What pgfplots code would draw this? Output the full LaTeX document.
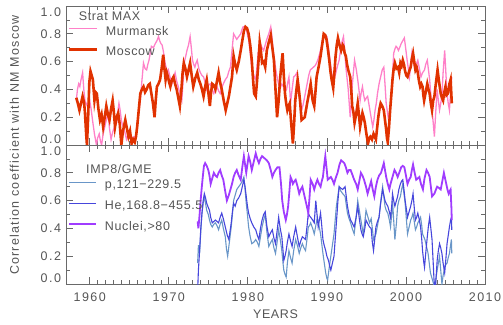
\documentclass[border=0pt]{standalone}
\usepackage{pgfplots}
\pgfplotsset{compat=1.18}
\usepackage{fontspec}
\setmainfont{Liberation Sans}[LetterSpace=5]
\newfontfamily\tickfont{Liberation Sans}[LetterSpace=12]
\newfontfamily\ylabfont{Liberation Sans}[LetterSpace=10]
\newcommand\lab{\fontsize{12.5}{15}\selectfont}
\definecolor{txt}{RGB}{85,85,85}
\definecolor{axc}{RGB}{105,105,105}
\definecolor{murm}{RGB}{255,128,200}
\definecolor{mosc}{RGB}{225,50,0}
\definecolor{pcol}{RGB}{105,150,200}
\definecolor{hecol}{RGB}{70,70,220}
\definecolor{nucol}{RGB}{160,60,255}
\pgfplotsset{panel/.style={
  width=419pt, height=139pt, scale only axis,
  xmin=1957, xmax=2010, ymin=0, ymax=1,
  xtick={1960,1970,1980,1990,2000,2010}, minor x tick num=9,
  ytick={0,0.2,0.4,0.6,0.8,1}, minor y tick num=1,
  tick align=inside, major tick length=7pt, minor tick length=4pt,
  axis line style={axc, line width=0.9pt},
  every tick/.style={axc, line width=0.7pt},
  tick label style={font=\tickfont\lab, text=txt},
  /pgf/number format/assume math mode=true,
  /pgf/number format/1000 sep={},
  xticklabel style={yshift=-5pt},
  yticklabel style={xshift=-1.5pt},
  yticklabel={\pgfmathparse{\tick}\let\tv\pgfmathresult%
    \ifdim\tv pt<0.05pt \raisebox{5.5pt}[\height][\depth]{0.0}%
    \else\ifdim\tv pt>0.95pt \raisebox{-6pt}[\height][\depth]{1.0}%
    \else\pgfmathprintnumber[fixed,fixed zerofill,precision=1]{\tick}\fi\fi},
  legend image code/.code={\draw[#1] (0pt,2pt) -- (27pt,2pt);},
  legend cell align=left,
}}
\begin{document}
\begin{tikzpicture}
\useasboundingbox (-66pt,-40pt) rectangle (437pt,284pt);
% ---------------- bottom panel ----------------
\begin{axis}[panel, at={(0pt,0pt)}, anchor=south west,
  xlabel={YEARS},
  every axis x label/.style={at={(axis description cs:0.5,0)}, anchor=north, yshift=-26pt, inner sep=0pt, font=\lab, text=txt},
  ylabel={Correlation coefficient with NM Moscow},
  every axis y label/.style={at={(axis description cs:-0.1229,1)}, rotate=90, anchor=center, inner sep=0pt, font=\ylabfont\lab, text=txt},
  legend style={at={(axis description cs:0,1)}, anchor=north west, xshift=2pt, yshift=-34.5pt,
    draw=none, fill=none, inner sep=0pt, row sep=12pt, font=\lab, text=txt,
    nodes={inner sep=0pt, text height=9pt, text depth=0pt},
    /tikz/every odd column/.append style={column sep=8pt}},
]
\addplot[pcol, line width=1.1pt] coordinates {
(1973.65,0.15)(1973.75,0.28)(1973.9,0.22)(1974.05,0.38)(1974.2,0.51)(1974.35,0.58)(1974.5,0.63)(1974.65,0.58)(1974.8,0.53)(1975.0,0.50)
(1975.15,0.46)(1975.3,0.43)(1975.5,0.41)(1975.7,0.43)(1975.9,0.44)(1976.1,0.42)(1976.3,0.39)(1976.5,0.43)(1976.7,0.46)(1976.9,0.40)
(1977.15,0.34)(1977.3,0.25)(1977.45,0.20)(1977.6,0.27)(1977.75,0.34)(1977.9,0.41)(1978.05,0.50)(1978.2,0.60)(1978.4,0.64)(1978.6,0.68)
(1978.85,0.70)(1979.1,0.72)(1979.3,0.74)(1979.5,0.77)(1979.65,0.68)(1979.8,0.58)(1979.95,0.50)(1980.1,0.41)(1980.3,0.34)(1980.5,0.29)
(1980.75,0.30)(1981.0,0.32)(1981.2,0.30)(1981.4,0.27)(1981.6,0.34)(1981.8,0.41)(1982.0,0.46)(1982.2,0.50)(1982.4,0.38)(1982.65,0.27)
(1982.9,0.30)(1983.1,0.32)(1983.3,0.26)(1983.5,0.22)(1983.7,0.30)(1983.9,0.39)(1984.1,0.32)(1984.3,0.24)(1984.45,0.15)(1984.55,0.10)
(1984.7,0.07)(1984.85,0.05)(1985.0,0.15)(1985.2,0.24)(1985.4,0.19)(1985.6,0.15)(1985.8,0.24)(1986.05,0.32)(1986.3,0.27)(1986.5,0.22)
(1986.7,0.26)(1986.9,0.29)(1987.1,0.26)(1987.3,0.24)(1987.5,0.33)(1987.65,0.41)(1987.8,0.42)(1987.95,0.44)(1988.2,0.40)(1988.4,0.36)
(1988.6,0.42)(1988.8,0.48)(1989.0,0.42)(1989.2,0.36)(1989.35,0.29)(1989.5,0.22)(1989.7,0.14)(1989.85,0.08)(1990.0,0.04)(1990.1,0.03)
(1990.3,0.12)(1990.5,0.20)(1990.7,0.28)(1990.9,0.36)(1991.05,0.46)(1991.2,0.56)(1991.4,0.64)(1991.55,0.70)(1991.75,0.67)(1992.0,0.65)
(1992.15,0.64)(1992.3,0.63)(1992.45,0.57)(1992.6,0.51)(1992.8,0.47)(1993.0,0.44)(1993.2,0.40)(1993.45,0.36)(1993.7,0.48)(1993.9,0.60)
(1994.1,0.53)(1994.3,0.46)(1994.45,0.41)(1994.6,0.36)(1994.8,0.45)(1994.95,0.53)(1995.2,0.48)(1995.4,0.44)(1995.6,0.47)(1995.75,0.40)
(1995.9,0.32)(1996.05,0.34)(1996.2,0.36)(1996.4,0.42)(1996.6,0.48)(1996.8,0.59)(1997.05,0.70)(1997.2,0.63)(1997.35,0.56)(1997.5,0.53)
(1997.7,0.51)(1997.9,0.46)(1998.05,0.41)(1998.2,0.50)(1998.3,0.60)(1998.45,0.46)(1998.6,0.32)(1998.8,0.44)(1998.95,0.56)(1999.1,0.60)
(1999.3,0.63)(1999.45,0.68)(1999.6,0.72)(1999.75,0.65)(1999.9,0.58)(2000.05,0.47)(2000.2,0.36)(2000.4,0.41)(2000.6,0.46)(2000.75,0.48)
(2000.9,0.51)(2001.05,0.45)(2001.2,0.39)(2001.35,0.41)(2001.5,0.44)(2001.7,0.46)(2001.85,0.48)(2002.0,0.42)(2002.1,0.36)(2002.25,0.34)
(2002.4,0.32)(2002.6,0.27)(2002.8,0.22)(2002.95,0.15)(2003.1,0.08)(2003.3,0.04)(2003.5,0.00)(2003.65,-0.05)(2003.8,0.04)(2003.95,0.10)
(2004.1,0.15)(2004.25,0.20)(2004.4,0.10)(2004.55,0.00)(2004.7,0.06)(2004.9,0.12)(2005.05,0.14)(2005.2,0.15)(2005.35,0.19)(2005.5,0.22)
(2005.65,0.28)(2005.75,0.32)(2005.8,0.22)};
\addlegendentry{p,121−229.5}
\addplot[hecol, line width=1.1pt] coordinates {
(1973.65,-0.05)(1973.75,0.10)(1973.9,0.24)(1974.05,0.40)(1974.2,0.51)(1974.35,0.60)(1974.5,0.65)(1974.65,0.62)(1974.8,0.58)(1975.0,0.55)
(1975.15,0.53)(1975.3,0.48)(1975.5,0.44)(1975.7,0.45)(1975.9,0.46)(1976.1,0.45)(1976.3,0.44)(1976.5,0.48)(1976.7,0.51)(1976.9,0.47)
(1977.15,0.41)(1977.4,0.35)(1977.6,0.32)(1977.75,0.38)(1977.9,0.44)(1978.05,0.52)(1978.2,0.58)(1978.4,0.56)(1978.6,0.60)(1978.85,0.62)
(1979.1,0.65)(1979.3,0.70)(1979.5,0.75)(1979.65,0.70)(1979.8,0.63)(1979.95,0.56)(1980.1,0.51)(1980.3,0.47)(1980.5,0.44)(1980.75,0.41)
(1981.0,0.39)(1981.2,0.35)(1981.4,0.32)(1981.6,0.40)(1981.8,0.46)(1982.0,0.50)(1982.2,0.52)(1982.4,0.42)(1982.65,0.34)(1982.9,0.37)
(1983.1,0.39)(1983.3,0.33)(1983.5,0.29)(1983.7,0.38)(1983.9,0.48)(1984.1,0.40)(1984.3,0.34)(1984.45,0.24)(1984.55,0.17)(1984.7,0.20)
(1984.85,0.24)(1985.0,0.30)(1985.2,0.36)(1985.4,0.31)(1985.6,0.27)(1985.8,0.34)(1986.05,0.41)(1986.3,0.33)(1986.5,0.27)(1986.7,0.31)
(1986.9,0.34)(1987.1,0.33)(1987.3,0.32)(1987.5,0.42)(1987.65,0.51)(1987.8,0.49)(1987.95,0.48)(1988.2,0.46)(1988.4,0.44)(1988.5,0.52)
(1988.6,0.60)(1988.75,0.50)(1988.9,0.41)(1989.05,0.46)(1989.2,0.51)(1989.35,0.42)(1989.5,0.32)(1989.65,0.28)(1989.85,0.24)(1990.0,0.20)
(1990.2,0.17)(1990.35,0.13)(1990.5,0.10)(1990.7,0.15)(1990.9,0.20)(1991.05,0.32)(1991.2,0.44)(1991.4,0.60)(1991.55,0.70)(1991.75,0.69)
(1992.0,0.68)(1992.15,0.69)(1992.3,0.70)(1992.45,0.63)(1992.6,0.56)(1992.8,0.50)(1993.0,0.46)(1993.2,0.44)(1993.45,0.41)(1993.7,0.48)
(1993.9,0.56)(1994.1,0.47)(1994.3,0.39)(1994.45,0.36)(1994.6,0.34)(1994.8,0.40)(1994.95,0.46)(1995.2,0.43)(1995.4,0.41)(1995.6,0.40)
(1995.75,0.30)(1995.9,0.24)(1996.05,0.32)(1996.2,0.41)(1996.4,0.45)(1996.6,0.48)(1996.8,0.58)(1997.05,0.68)(1997.2,0.64)(1997.35,0.60)
(1997.5,0.58)(1997.7,0.56)(1997.9,0.52)(1998.05,0.48)(1998.2,0.56)(1998.3,0.65)(1998.45,0.60)(1998.6,0.56)(1998.8,0.60)(1998.95,0.63)
(1999.1,0.68)(1999.3,0.72)(1999.45,0.74)(1999.6,0.75)(1999.75,0.68)(1999.9,0.60)(2000.05,0.54)(2000.2,0.48)(2000.4,0.52)(2000.6,0.56)
(2000.75,0.60)(2000.9,0.65)(2001.05,0.55)(2001.2,0.46)(2001.35,0.48)(2001.5,0.51)(2001.7,0.46)(2001.85,0.41)(2002.0,0.32)(2002.1,0.24)
(2002.25,0.16)(2002.35,0.12)(2002.5,0.22)(2002.7,0.34)(2002.85,0.42)(2003.0,0.48)(2003.15,0.40)(2003.3,0.32)(2003.45,0.15)(2003.55,0.03)
(2003.7,-0.05)(2003.85,0.08)(2003.95,0.17)(2004.1,0.24)(2004.25,0.29)(2004.4,0.26)(2004.55,0.22)(2004.7,0.15)(2004.9,0.08)(2005.05,0.18)
(2005.2,0.29)(2005.35,0.35)(2005.5,0.41)(2005.65,0.46)(2005.75,0.48)(2005.8,0.39)};
\addlegendentry{He,168.8−455.5}
\addplot[nucol, line width=1.8pt] coordinates {
(1973.65,0.45)(1973.75,0.40)(1973.9,0.50)(1974.0,0.58)(1974.15,0.68)(1974.3,0.77)(1974.45,0.85)(1974.6,0.87)(1974.8,0.85)(1975.0,0.82)
(1975.15,0.78)(1975.3,0.72)(1975.5,0.76)(1975.7,0.80)(1975.9,0.78)(1976.1,0.77)(1976.3,0.80)(1976.5,0.82)(1976.7,0.78)(1976.9,0.75)
(1977.1,0.68)(1977.35,0.60)(1977.6,0.64)(1977.8,0.68)(1978.0,0.72)(1978.2,0.77)(1978.4,0.80)(1978.6,0.82)(1978.85,0.78)(1979.1,0.75)
(1979.3,0.84)(1979.5,0.92)(1979.65,0.86)(1979.8,0.80)(1979.95,0.86)(1980.1,0.92)(1980.3,0.88)(1980.5,0.82)(1980.75,0.88)(1981.0,0.94)
(1981.2,0.90)(1981.4,0.87)(1981.6,0.90)(1981.8,0.92)(1982.0,0.91)(1982.2,0.90)(1982.4,0.89)(1982.65,0.87)(1982.9,0.82)(1983.1,0.77)
(1983.3,0.80)(1983.5,0.82)(1983.75,0.84)(1984.0,0.84)(1984.2,0.72)(1984.35,0.60)(1984.55,0.52)(1984.8,0.46)(1984.95,0.50)(1985.1,0.56)
(1985.25,0.66)(1985.4,0.77)(1985.55,0.75)(1985.7,0.72)(1985.9,0.74)(1986.05,0.75)(1986.3,0.70)(1986.5,0.65)(1986.7,0.68)(1986.9,0.70)
(1987.1,0.65)(1987.3,0.60)(1987.5,0.55)(1987.65,0.51)(1987.8,0.62)(1987.95,0.75)(1988.2,0.72)(1988.4,0.68)(1988.6,0.72)(1988.8,0.75)
(1989.0,0.72)(1989.2,0.70)(1989.35,0.74)(1989.5,0.77)(1989.65,0.85)(1989.8,0.92)(1989.95,0.84)(1990.1,0.75)(1990.3,0.76)(1990.5,0.77)
(1990.7,0.75)(1990.9,0.72)(1991.1,0.76)(1991.35,0.80)(1991.6,0.86)(1991.8,0.89)(1992.0,0.88)(1992.2,0.87)(1992.4,0.84)(1992.6,0.80)
(1992.8,0.82)(1993.0,0.82)(1993.2,0.79)(1993.45,0.75)(1993.7,0.72)(1993.9,0.68)(1994.1,0.74)(1994.3,0.80)(1994.5,0.78)(1994.7,0.75)
(1994.95,0.70)(1995.15,0.65)(1995.4,0.70)(1995.6,0.74)(1995.8,0.68)(1996.0,0.63)(1996.2,0.70)(1996.4,0.75)(1996.6,0.78)(1996.85,0.80)
(1997.05,0.84)(1997.2,0.87)(1997.35,0.82)(1997.5,0.77)(1997.7,0.72)(1997.9,0.68)(1998.05,0.72)(1998.2,0.75)(1998.4,0.79)(1998.55,0.82)
(1998.75,0.80)(1998.95,0.77)(1999.15,0.80)(1999.4,0.84)(1999.6,0.85)(1999.8,0.84)(2000.0,0.78)(2000.2,0.72)(2000.4,0.75)(2000.6,0.77)
(2000.75,0.82)(2000.9,0.86)(2001.1,0.80)(2001.3,0.75)(2001.5,0.76)(2001.7,0.77)(2001.9,0.72)(2002.15,0.68)(2002.35,0.76)(2002.6,0.82)
(2002.8,0.80)(2003.0,0.77)(2003.15,0.70)(2003.3,0.63)(2003.45,0.64)(2003.6,0.65)(2003.8,0.68)(2003.95,0.70)(2004.2,0.69)(2004.4,0.68)
(2004.6,0.74)(2004.8,0.80)(2004.95,0.76)(2005.1,0.72)(2005.25,0.68)(2005.4,0.65)(2005.55,0.67)(2005.65,0.68)(2005.75,0.55)(2005.8,0.46)};
\addlegendentry{Nuclei,>80}
\node[anchor=base west, inner sep=0pt, font=\lab, text=txt, xshift=20pt, yshift=-29pt] at (axis description cs:0,1) {IMP8/GME};
\end{axis}
% ---------------- top panel ----------------
\begin{axis}[panel, at={(0pt,139pt)}, anchor=south west,
  xticklabels={},
  legend style={at={(axis description cs:0,1)}, anchor=north west, xshift=2pt, yshift=-20pt,
    draw=none, fill=none, inner sep=0pt, row sep=11.7pt, font=\lab, text=txt,
    nodes={inner sep=0pt, text height=9pt, text depth=0pt},
    /tikz/every odd column/.append style={column sep=8pt}},
]
\addplot[murm, line width=1.3pt] coordinates {
(1958.3,0.32)(1958.45,0.40)(1958.6,0.44)(1958.75,0.42)(1958.9,0.47)(1959.1,0.52)(1959.25,0.40)(1959.4,0.32)(1959.55,0.30)(1959.7,0.28)
(1959.85,0.31)(1960.0,0.32)(1960.2,0.25)(1960.4,0.16)(1960.6,0.08)(1960.85,0.00)(1961.0,0.05)(1961.2,0.08)(1961.35,0.03)(1961.5,0.00)
(1961.7,0.08)(1961.9,0.13)(1962.1,0.18)(1962.3,0.23)(1962.5,0.12)(1962.7,0.04)(1962.85,0.08)(1963.0,0.11)(1963.2,0.14)(1963.4,0.16)
(1963.55,0.24)(1963.7,0.30)(1963.85,0.25)(1964.0,0.18)(1964.15,0.14)(1964.3,0.13)(1964.5,0.08)(1964.65,0.04)(1964.85,0.07)(1965.1,0.08)
(1965.25,0.05)(1965.4,0.04)(1965.6,0.06)(1965.8,0.04)(1965.95,0.10)(1966.1,0.20)(1966.25,0.26)(1966.4,0.32)(1966.6,0.46)(1966.8,0.59)
(1967.0,0.55)(1967.2,0.54)(1967.35,0.58)(1967.5,0.61)(1967.65,0.66)(1967.8,0.71)(1968.05,0.70)(1968.3,0.73)(1968.5,0.75)(1968.7,0.78)
(1968.85,0.75)(1969.0,0.73)(1969.15,0.72)(1969.3,0.68)(1969.5,0.60)(1969.65,0.56)(1969.8,0.52)(1969.95,0.54)(1970.2,0.48)(1970.4,0.44)
(1970.6,0.48)(1970.8,0.52)(1971.0,0.46)(1971.2,0.42)(1971.45,0.36)(1971.65,0.32)(1971.8,0.45)(1971.95,0.59)(1972.15,0.64)(1972.3,0.68)
(1972.5,0.72)(1972.7,0.78)(1972.85,0.70)(1973.0,0.61)(1973.15,0.58)(1973.3,0.56)(1973.45,0.59)(1973.6,0.61)(1973.8,0.55)(1974.0,0.52)
(1974.2,0.50)(1974.4,0.49)(1974.6,0.45)(1974.8,0.40)(1975.0,0.43)(1975.25,0.44)(1975.5,0.40)(1975.7,0.37)(1975.9,0.40)(1976.1,0.42)
(1976.3,0.39)(1976.5,0.37)(1976.7,0.41)(1976.9,0.44)(1977.15,0.47)(1977.4,0.49)(1977.6,0.53)(1977.8,0.56)(1978.0,0.68)(1978.2,0.80)
(1978.4,0.78)(1978.6,0.76)(1978.85,0.78)(1979.1,0.80)(1979.25,0.83)(1979.4,0.85)(1979.6,0.85)(1979.8,0.84)(1980.0,0.78)(1980.1,0.76)
(1980.3,0.66)(1980.5,0.56)(1980.75,0.50)(1981.0,0.47)(1981.15,0.56)(1981.3,0.66)(1981.45,0.70)(1981.6,0.73)(1981.8,0.70)(1982.0,0.68)
(1982.2,0.72)(1982.4,0.76)(1982.65,0.80)(1982.9,0.85)(1983.05,0.78)(1983.2,0.68)(1983.4,0.60)(1983.6,0.52)(1983.8,0.46)(1984.05,0.40)
(1984.3,0.44)(1984.5,0.42)(1984.7,0.38)(1984.9,0.40)(1985.05,0.45)(1985.2,0.49)(1985.3,0.40)(1985.4,0.30)(1985.6,0.40)(1985.8,0.49)
(1986.0,0.50)(1986.2,0.52)(1986.35,0.46)(1986.5,0.40)(1986.65,0.32)(1986.8,0.25)(1986.95,0.28)(1987.1,0.32)(1987.3,0.38)(1987.5,0.44)
(1987.7,0.50)(1987.9,0.54)(1988.1,0.55)(1988.3,0.56)(1988.5,0.57)(1988.7,0.59)(1988.9,0.62)(1989.1,0.66)(1989.35,0.72)(1989.55,0.78)
(1989.8,0.79)(1990.0,0.78)(1990.2,0.70)(1990.4,0.61)(1990.6,0.52)(1990.8,0.44)(1991.05,0.50)(1991.3,0.56)(1991.55,0.61)(1991.85,0.73)
(1992.0,0.76)(1992.1,0.78)(1992.25,0.68)(1992.4,0.56)(1992.55,0.48)(1992.7,0.40)(1992.85,0.28)(1992.95,0.20)(1993.1,0.30)(1993.2,0.42)
(1993.35,0.52)(1993.5,0.61)(1993.7,0.55)(1993.9,0.47)(1994.05,0.40)(1994.2,0.32)(1994.35,0.38)(1994.5,0.42)(1994.65,0.36)(1994.8,0.32)
(1995.0,0.34)(1995.15,0.35)(1995.3,0.30)(1995.5,0.23)(1995.65,0.18)(1995.8,0.13)(1995.95,0.18)(1996.1,0.25)(1996.25,0.30)(1996.4,0.37)
(1996.6,0.44)(1996.8,0.49)(1997.0,0.54)(1997.2,0.56)(1997.35,0.44)(1997.5,0.30)(1997.65,0.24)(1997.8,0.18)(1997.95,0.25)(1998.1,0.32)
(1998.3,0.50)(1998.45,0.66)(1998.6,0.69)(1998.75,0.71)(1998.9,0.70)(1999.05,0.68)(1999.2,0.70)(1999.4,0.73)(1999.6,0.75)(1999.8,0.77)
(2000.0,0.68)(2000.15,0.61)(2000.3,0.55)(2000.45,0.49)(2000.6,0.58)(2000.75,0.66)(2000.9,0.60)(2001.1,0.56)(2001.3,0.58)(2001.5,0.61)
(2001.7,0.55)(2001.9,0.49)(2002.1,0.52)(2002.35,0.54)(2002.5,0.58)(2002.7,0.61)(2002.85,0.54)(2003.0,0.47)(2003.15,0.36)(2003.3,0.25)
(2003.45,0.16)(2003.6,0.06)(2003.75,0.22)(2003.95,0.40)(2004.1,0.32)(2004.25,0.25)(2004.4,0.30)(2004.55,0.35)(2004.7,0.52)(2004.9,0.68)
(2005.05,0.52)(2005.2,0.37)(2005.35,0.30)(2005.5,0.25)(2005.65,0.38)(2005.8,0.49)};
\addlegendentry{Murmansk}
\addplot[mosc, line width=2.6pt] coordinates {
(1958.3,0.34)(1958.5,0.30)(1958.7,0.25)(1958.9,0.30)(1959.1,0.35)(1959.3,0.30)(1959.4,0.23)(1959.55,0.08)(1959.65,0.00)(1959.8,0.20)
(1959.95,0.45)(1960.1,0.53)(1960.25,0.50)(1960.4,0.47)(1960.6,0.32)(1960.75,0.38)(1960.9,0.37)(1961.1,0.26)(1961.3,0.18)(1961.5,0.22)
(1961.7,0.13)(1961.9,0.20)(1962.1,0.28)(1962.3,0.22)(1962.5,0.18)(1962.7,0.26)(1962.9,0.32)(1963.05,0.24)(1963.2,0.13)(1963.4,0.20)
(1963.6,0.23)(1963.8,0.15)(1964.0,0.00)(1964.2,0.10)(1964.5,0.18)(1964.7,0.12)(1964.9,0.06)(1965.1,0.10)(1965.3,0.01)(1965.5,0.04)
(1965.7,0.02)(1965.85,0.06)(1966.0,0.13)(1966.2,0.25)(1966.4,0.37)(1966.6,0.40)(1966.8,0.42)(1967.0,0.38)(1967.2,0.40)(1967.4,0.43)
(1967.6,0.44)(1967.8,0.37)(1968.0,0.30)(1968.2,0.20)(1968.35,0.32)(1968.5,0.42)(1968.7,0.44)(1968.9,0.47)(1969.1,0.55)(1969.3,0.65)
(1969.45,0.55)(1969.6,0.47)(1969.75,0.52)(1969.9,0.49)(1970.05,0.45)(1970.2,0.42)(1970.4,0.47)(1970.6,0.49)(1970.8,0.44)(1971.0,0.40)
(1971.2,0.34)(1971.4,0.28)(1971.6,0.40)(1971.75,0.52)(1971.9,0.59)(1972.1,0.55)(1972.3,0.49)(1972.5,0.54)(1972.7,0.59)(1972.9,0.50)
(1973.1,0.42)(1973.35,0.48)(1973.6,0.52)(1973.8,0.47)(1974.0,0.44)(1974.2,0.40)(1974.4,0.35)(1974.6,0.42)(1974.8,0.47)(1975.0,0.38)
(1975.2,0.28)(1975.35,0.38)(1975.5,0.44)(1975.7,0.43)(1975.9,0.40)(1976.1,0.46)(1976.3,0.52)(1976.5,0.45)(1976.7,0.40)(1976.95,0.32)
(1977.2,0.25)(1977.4,0.30)(1977.6,0.35)(1977.8,0.42)(1978.0,0.49)(1978.2,0.64)(1978.4,0.58)(1978.6,0.54)(1978.85,0.60)(1979.1,0.68)
(1979.3,0.75)(1979.5,0.82)(1979.7,0.85)(1979.9,0.84)(1980.1,0.80)(1980.3,0.72)(1980.5,0.61)(1980.65,0.48)(1980.8,0.37)(1981.0,0.35)
(1981.15,0.45)(1981.3,0.56)(1981.5,0.74)(1981.65,0.68)(1981.8,0.59)(1982.0,0.60)(1982.2,0.56)(1982.4,0.68)(1982.65,0.74)(1982.9,0.79)
(1983.1,0.70)(1983.3,0.61)(1983.5,0.40)(1983.7,0.20)(1983.9,0.32)(1984.1,0.49)(1984.25,0.58)(1984.4,0.66)(1984.55,0.50)(1984.7,0.37)
(1984.85,0.30)(1985.0,0.25)(1985.15,0.28)(1985.3,0.30)(1985.45,0.18)(1985.6,0.08)(1985.7,0.01)(1985.85,0.15)(1986.0,0.32)(1986.15,0.40)
(1986.3,0.47)(1986.45,0.40)(1986.6,0.32)(1986.8,0.18)(1987.0,0.19)(1987.2,0.20)(1987.35,0.25)(1987.5,0.30)(1987.7,0.36)(1987.95,0.44)
(1988.2,0.32)(1988.4,0.28)(1988.55,0.38)(1988.7,0.49)(1988.95,0.56)(1989.2,0.64)(1989.4,0.72)(1989.6,0.80)(1989.8,0.79)(1989.95,0.76)
(1990.1,0.70)(1990.3,0.61)(1990.45,0.53)(1990.6,0.47)(1990.8,0.41)(1990.95,0.52)(1991.1,0.64)(1991.25,0.72)(1991.4,0.77)(1991.6,0.72)
(1991.8,0.68)(1992.0,0.72)(1992.1,0.71)(1992.25,0.66)(1992.4,0.64)(1992.55,0.58)(1992.7,0.54)(1992.95,0.49)(1993.1,0.38)(1993.2,0.28)
(1993.35,0.24)(1993.5,0.16)(1993.7,0.22)(1993.9,0.30)(1994.05,0.22)(1994.2,0.13)(1994.35,0.18)(1994.5,0.23)(1994.65,0.20)(1994.8,0.16)
(1995.0,0.08)(1995.2,0.01)(1995.35,0.05)(1995.5,0.06)(1995.7,0.04)(1995.9,0.08)(1996.05,0.06)(1996.2,0.04)(1996.35,0.12)(1996.5,0.20)
(1996.65,0.26)(1996.8,0.30)(1997.0,0.28)(1997.2,0.25)(1997.35,0.18)(1997.5,0.11)(1997.6,0.05)(1997.7,0.02)(1997.85,0.12)(1998.0,0.25)
(1998.15,0.36)(1998.3,0.47)(1998.45,0.55)(1998.6,0.59)(1998.8,0.55)(1999.0,0.56)(1999.15,0.52)(1999.3,0.59)(1999.45,0.57)(1999.6,0.61)
(1999.75,0.58)(1999.9,0.53)(2000.05,0.50)(2000.2,0.49)(2000.4,0.53)(2000.6,0.56)(2000.75,0.62)(2000.9,0.66)(2001.05,0.60)(2001.2,0.54)
(2001.35,0.56)(2001.5,0.52)(2001.65,0.46)(2001.8,0.42)(2001.95,0.44)(2002.1,0.42)(2002.2,0.36)(2002.3,0.32)(2002.5,0.38)(2002.7,0.44)
(2002.85,0.40)(2003.0,0.37)(2003.15,0.30)(2003.3,0.25)(2003.45,0.32)(2003.6,0.35)(2003.8,0.45)(2004.0,0.54)(2004.2,0.45)(2004.4,0.37)
(2004.55,0.34)(2004.7,0.32)(2004.85,0.38)(2005.0,0.42)(2005.15,0.36)(2005.3,0.37)(2005.5,0.44)(2005.65,0.47)(2005.8,0.30)};
\addlegendentry{Moscow}
\node[anchor=base west, inner sep=0pt, font=\lab, text=txt, xshift=12.7pt, yshift=-15pt] at (axis description cs:0,1) {Strat MAX};
\end{axis}
\end{tikzpicture}
\end{document}
